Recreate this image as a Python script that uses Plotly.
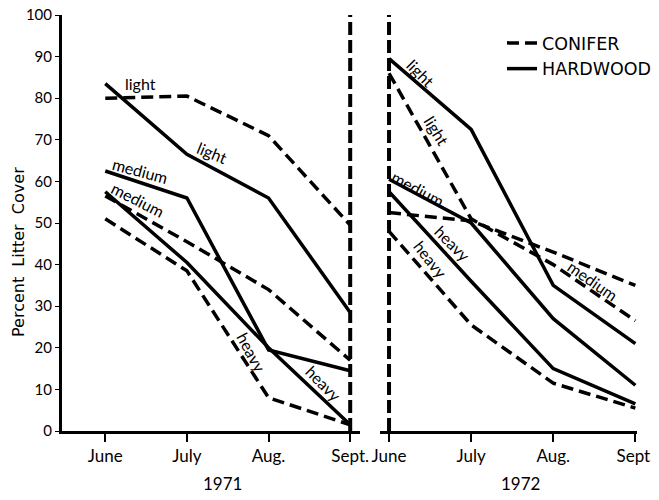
import plotly.graph_objects as go

months = ["June", "July", "Aug.", "Sept."]
years = ["1971", "1972"]

# 1971 values (percent litter cover)
conifer_1971_light = [80, 80.5, 71, 49.5]
conifer_1971_medium = [56.5, 45.5, 34, 17]
conifer_1971_heavy = [51, 38.5, 8, 1.5]
hardwood_1971_light = [83.5, 66.5, 56, 28.5]
hardwood_1971_medium = [62.5, 56, 19.5, 14.5]
hardwood_1971_heavy = [57.5, 40.5, 20, 1.5]

# 1972 values
conifer_1972_light = [86, 51, 40, 26.5]
conifer_1972_medium = [52.5, 50.5, 43, 35]
conifer_1972_heavy = [48, 25.5, 11.5, 5.5]
hardwood_1972_light = [89.5, 72.5, 35, 21]
hardwood_1972_medium = [60.5, 50, 27, 11]
hardwood_1972_heavy = [57.5, 36, 15, 6.5]

# vertical dashed rules drawn at Sept. 1971 and June 1972
rule_values = [0, 100]

xs = list(range(len(months)))
FONT = "Lato"
DASH = "12px,6px"
LW = 3.5

fig = go.Figure()

def add(vals, kind, xa, ya, show):
    fig.add_trace(go.Scatter(
        x=xs, y=vals, mode="lines",
        line=dict(color="black", width=LW, dash=DASH if kind == "CONIFER" else "solid"),
        name=kind, legendgroup=kind, showlegend=show,
        xaxis=xa, yaxis=ya, hoverinfo="skip"))

add(hardwood_1971_light, "HARDWOOD", "x", "y", False)
add(conifer_1971_light, "CONIFER", "x", "y", False)
add(hardwood_1971_medium, "HARDWOOD", "x", "y", False)
add(conifer_1971_medium, "CONIFER", "x", "y", False)
add(hardwood_1971_heavy, "HARDWOOD", "x", "y", False)
add(conifer_1971_heavy, "CONIFER", "x", "y", False)

add(conifer_1972_light, "CONIFER", "x2", "y2", True)
add(hardwood_1972_light, "HARDWOOD", "x2", "y2", True)
add(hardwood_1972_medium, "HARDWOOD", "x2", "y2", False)
add(conifer_1972_medium, "CONIFER", "x2", "y2", False)
add(hardwood_1972_heavy, "HARDWOOD", "x2", "y2", False)
add(conifer_1972_heavy, "CONIFER", "x2", "y2", False)

# vertical dashed rules
fig.add_trace(go.Scatter(x=[xs[-1], xs[-1]], y=rule_values, mode="lines",
                         line=dict(color="black", width=4, dash="13px,5px"),
                         showlegend=False, xaxis="x", yaxis="y", hoverinfo="skip"))
fig.add_trace(go.Scatter(x=[xs[0], xs[0]], y=rule_values, mode="lines",
                         line=dict(color="black", width=4, dash="13px,5px"),
                         showlegend=False, xaxis="x2", yaxis="y2", hoverinfo="skip"))

# page offset (browser body margin) compensation: figure sized to fit the window
OFF = 8
W, H = 659 - OFF, 500 - 2 * OFF
# plot area in screen pixels: x 62..637, y 15..431
ML = 62 - OFF
MT = 15 - OFF
MR = W - (637 - OFF)
MB = H - (431 - OFF)
PW = W - ML - MR
PH = H - MT - MB

def px(x):
    return (x - OFF - ML) / PW

def py(y):
    return (H - MB - (y - OFF)) / PH

axis_common = dict(showline=True, linewidth=3, linecolor="black", mirror=False,
                   ticks="outside", ticklen=8, tickwidth=1.5, tickcolor="black",
                   showgrid=False, zeroline=False, automargin=False,
                   ticklabeloverflow="allow",
                   tickfont=dict(family=FONT, size=17, color="black"),
                   tickvals=xs, ticktext=months)

fig.update_layout(
    width=W, height=H,
    margin=dict(l=ML, r=MR, t=MT, b=MB, autoexpand=False),
    paper_bgcolor="white", plot_bgcolor="white",
    font=dict(family=FONT, color="black"),
    xaxis=dict(domain=[0, px(360)], range=[-0.53, 3.12], anchor="y", **axis_common),
    xaxis2=dict(domain=[px(380), 1], range=[-0.11, 3.02], anchor="y2", **axis_common),
    yaxis=dict(domain=[0, 1], range=[0, 100], anchor="x", showline=True, linewidth=3,
               linecolor="black", ticks="outside", ticklen=4, tickwidth=1, tickcolor="black",
               tickvals=list(range(0, 101, 10)), showgrid=False, zeroline=False, automargin=False,
               ticklabeloverflow="allow",
               tickfont=dict(family=FONT, size=15, color="black")),
    yaxis2=dict(domain=[0, 1], range=[0, 100], anchor="x2", visible=False),
    showlegend=True,
    legend=dict(x=px(502), y=py(25), xanchor="left", yanchor="top",
                font=dict(family="DejaVu Sans", size=17.5, color="black"),
                bgcolor="rgba(0,0,0,0)", tracegroupgap=0, itemwidth=30,
                traceorder="normal"),
)

labels = [
    ("light", 140, 84, 0),
    ("light", 212, 152, 22),
    ("medium", 140, 170, 15),
    ("medium", 138, 199, 27),
    ("heavy", 252, 352, 62),
    ("heavy", 324, 383, 45),
    ("light", 420, 73, 45),
    ("light", 437, 130, 58),
    ("medium", 418, 188, 28),
    ("heavy", 453, 243, 45),
    ("heavy", 431, 259, 52),
    ("medium", 593, 280, 35),
]
for txt, x, y, ang in labels:
    fig.add_annotation(text=txt, x=px(x), y=py(y), xref="paper", yref="paper",
                       xanchor="center", yanchor="middle",
                       showarrow=False, textangle=ang,
                       font=dict(family=FONT, size=16, color="black"))

fig.add_annotation(text="Percent  Litter  Cover", x=px(18), y=py(252), xref="paper", yref="paper",
                   xanchor="center", yanchor="middle",
                   showarrow=False, textangle=-90,
                   font=dict(family="DejaVu Sans", size=16, color="black"))
for yr, xc in zip(years, [222, 520]):
    fig.add_annotation(text=yr, x=px(xc), y=py(483), xref="paper", yref="paper",
                       xanchor="center", yanchor="middle", height=16, valign="middle",
                       borderpad=0,
                       showarrow=False, font=dict(family=FONT, size=17, color="black"))

fig.write_html("out.html")
